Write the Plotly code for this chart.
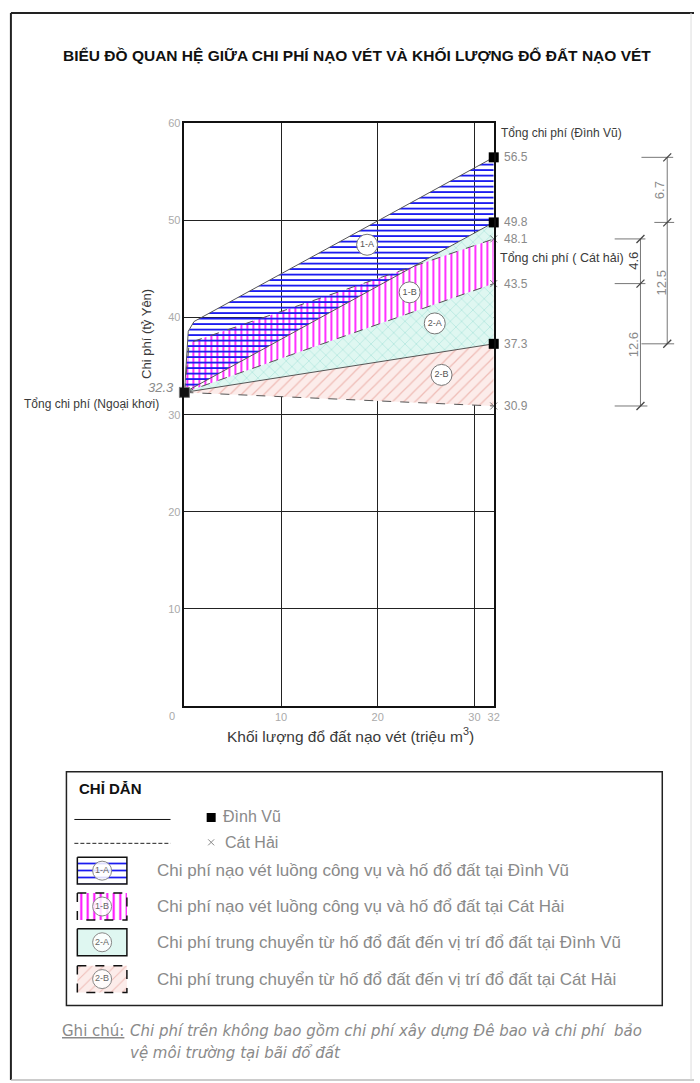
import plotly.graph_objects as go

W, H = 700, 1083

# Khối lượng đổ đất (triệu m3) và chi phí (tỷ Yên) của từng đường chi phí
vol_total_dv = [0.0, 0.4, 1.0, 32.0]
cost_total_dv = [32.3, 38.6, 39.6, 56.5]      # Tổng chi phí (Đình Vũ)
vol_total_ch = [0.0, 0.5, 32.0]
cost_total_ch = [32.3, 37.4, 48.1]            # Tổng chi phí (Cát Hải)
vol_line = [0.0, 32.0]
cost_transfer_dv = [32.3, 49.8]               # ranh giới 1-A / 2-A
cost_transfer_ch = [32.3, 43.5]               # ranh giới 1-B / 2-B
cost_base_dv = [32.3, 37.3]
cost_base_ch = [32.3, 30.9]
offshore_vol = [0.0]
offshore_cost = [32.3]                        # Tổng chi phí (Ngoại khơi)

x_ticks = [10, 20, 30, 32]
y_ticks = [10, 20, 30, 40, 50, 60]

zone_names = ["1-A", "1-B", "2-A", "2-B"]
zone_texts = [
    "Chi phí nạo vét luồng công vụ và hố đổ đất tại Đình Vũ",
    "Chi phí nạo vét luồng công vụ và hố đổ đất tại Cát Hải",
    "Chi phí trung chuyển từ hố đổ đất đến vị trí đổ đất tại Đình Vũ",
    "Chi phí trung chuyển từ hố đổ đất đến vị trí đổ đất tại Cát Hải",
]

SANS = "Liberation Sans, Arial, sans-serif"
WIDE = "DejaVu Sans, Verdana, sans-serif"
GRAY = "#8a8a8a"
DARK = "#3a3a3a"

BLUE = "#1c1cf0"
MAGENTA = "#ff00ff"
CYAN_BG = "#dff7f1"
CYAN_FG = "#a9e4da"
PINK_BG = "#fcecea"
PINK_FG = "#efbcb6"


def band(xt, yt, xb, yb):
    """Closed polygon between an upper and a lower cost line."""
    xs = list(xt) + list(xb)[::-1] + [xt[0]]
    ys = list(yt) + list(yb)[::-1] + [yt[0]]
    return xs, ys


def px(x):
    return x / W


def py(y):
    return 1 - y / H


fig = go.Figure()

# ---- hatched cost zones (bottom to top) ----
zones = [
    (band(vol_line, cost_transfer_ch, vol_line, cost_base_ch),
     dict(shape="/", fgcolor=PINK_FG, bgcolor=PINK_BG, size=8, solidity=0.15)),
    (band(vol_line, cost_transfer_dv, vol_line, cost_base_dv),
     dict(shape="x", fgcolor=CYAN_FG, bgcolor=CYAN_BG, size=8, solidity=0.15)),
    (band(vol_total_ch, cost_total_ch, vol_line, cost_transfer_ch),
     dict(shape="|", fgcolor=MAGENTA, bgcolor="white", size=6, solidity=0.27)),
    (band(vol_total_dv, cost_total_dv, vol_line, cost_transfer_dv),
     dict(shape="-", fgcolor=BLUE, bgcolor="rgba(255,255,255,0)", size=5.5, solidity=0.33)),
]
for (xs, ys), pat in zones:
    fig.add_trace(go.Scatter(
        x=xs, y=ys, mode="lines", fill="toself", line=dict(width=0),
        fillcolor="rgba(0,0,0,0)", fillpattern=dict(fillmode="replace", **pat),
        hoverinfo="skip", showlegend=False, xaxis="x", yaxis="y"))

# ---- cost lines: solid = Đình Vũ, dashed = Cát Hải ----
for xs, ys, dash in [
    (vol_total_dv, cost_total_dv, "solid"),
    (vol_line, cost_transfer_dv, "solid"),
    (vol_line, cost_base_dv, "solid"),
    (vol_total_ch, cost_total_ch, "dash"),
    (vol_line, cost_transfer_ch, "dash"),
    (vol_line, cost_base_ch, "dash"),
]:
    fig.add_trace(go.Scatter(x=xs, y=ys, mode="lines",
                             line=dict(color="#555", width=1, dash=dash),
                             hoverinfo="skip", showlegend=False))

# end markers
dv_end = [cost_total_dv[-1], cost_transfer_dv[-1], cost_base_dv[-1]]
ch_end = [cost_total_ch[-1], cost_transfer_ch[-1], cost_base_ch[-1]]
x_end = vol_line[-1]
fig.add_trace(go.Scatter(x=[x_end] * 3, y=dv_end, mode="markers", cliponaxis=False,
                         marker=dict(symbol="square", size=10, color="black"),
                         hoverinfo="skip", showlegend=False))
fig.add_trace(go.Scatter(x=[x_end] * 3, y=ch_end, mode="markers", cliponaxis=False,
                         marker=dict(symbol="x-thin", size=7, line=dict(color="#777", width=1)),
                         hoverinfo="skip", showlegend=False))
fig.add_trace(go.Scatter(x=offshore_vol, y=offshore_cost, mode="markers", cliponaxis=False,
                         marker=dict(symbol="square", size=10, color="#111",
                                     line=dict(color="#777", width=1)),
                         hoverinfo="skip", showlegend=False))

# circled zone tags
tag_x = [18.9, 23.3, 25.9, 26.6]
tag_y = [47.5, 42.6, 39.4, 34.1]
fig.add_trace(go.Scatter(x=tag_x, y=tag_y, mode="markers+text", text=zone_names,
                         textposition="middle center", cliponaxis=False,
                         textfont=dict(family=SANS, size=9, color="#555"),
                         marker=dict(symbol="circle", size=21, color="white",
                                     line=dict(color="#777", width=1)),
                         hoverinfo="skip", showlegend=False))

# ---- legend swatches (pixel space on x2/y2) ----
sw_x0, sw_x1 = 78, 128
sw_tops = [856, 892, 928, 965]
sw_h = 27
sw_styles = [
    (dict(shape="-", fgcolor=BLUE, bgcolor="white", size=7, solidity=0.25), "solid"),
    (dict(shape="|", fgcolor=MAGENTA, bgcolor="white", size=6.5, solidity=0.3), "dash"),
    (dict(shape="", fgcolor=CYAN_BG, bgcolor=CYAN_BG, size=8, solidity=0.2), "solid"),
    (dict(shape="/", fgcolor=PINK_FG, bgcolor=PINK_BG, size=8, solidity=0.12), "dash"),
]
for top, (pat, dash) in zip(sw_tops, sw_styles):
    xs = [sw_x0, sw_x1, sw_x1, sw_x0, sw_x0]
    ys = [top, top, top + sw_h, top + sw_h, top]
    kw = dict(fillpattern=dict(fillmode="replace", **pat)) if pat["shape"] else {}
    fig.add_trace(go.Scatter(
        x=xs, y=ys, mode="lines", fill="toself",
        fillcolor=pat["bgcolor"], line=dict(color="#111", width=1.5, dash=dash),
        hoverinfo="skip", showlegend=False, xaxis="x2", yaxis="y2", **kw))
fig.add_trace(go.Scatter(
    x=[(sw_x0 + sw_x1) / 2] * 4, y=[t + sw_h / 2 for t in sw_tops],
    mode="markers+text", text=zone_names, textposition="middle center",
    textfont=dict(family=SANS, size=9, color="#666"),
    marker=dict(symbol="circle", size=19, color="rgba(255,255,255,0.85)",
                line=dict(color="#888", width=1)),
    hoverinfo="skip", showlegend=False, xaxis="x2", yaxis="y2"))
# legend line-style samples and symbols
fig.add_trace(go.Scatter(x=[75, 172], y=[818, 818], mode="lines",
                         line=dict(color="#111", width=1), hoverinfo="skip",
                         showlegend=False, xaxis="x2", yaxis="y2"))
fig.add_trace(go.Scatter(x=[75, 172], y=[842, 842], mode="lines",
                         line=dict(color="#222", width=1, dash="4px,2px"), hoverinfo="skip",
                         showlegend=False, xaxis="x2", yaxis="y2"))
fig.add_trace(go.Scatter(x=[213], y=[816], mode="markers",
                         marker=dict(symbol="square", size=9, color="black"),
                         hoverinfo="skip", showlegend=False, xaxis="x2", yaxis="y2"))
fig.add_trace(go.Scatter(x=[213], y=[841], mode="markers",
                         marker=dict(symbol="x-thin", size=6, line=dict(color="#888", width=1)),
                         hoverinfo="skip", showlegend=False, xaxis="x2", yaxis="y2"))

shapes = []
# page frame
shapes += [
    dict(type="line", xref="x2", yref="y2", x0=11, x1=11, y0=7, y1=1080,
         line=dict(color="#222", width=2)),
    dict(type="line", xref="x2", yref="y2", x0=11, x1=700, y0=7, y1=7,
         line=dict(color="#222", width=2)),
    dict(type="line", xref="x2", yref="y2", x0=11, x1=700, y0=1080, y1=1080,
         line=dict(color="#bbb", width=1.5)),
    dict(type="line", xref="x2", yref="y2", x0=697, x1=697, y0=7, y1=1080,
         line=dict(color="#ddd", width=1)),
]
# legend frame
shapes.append(dict(type="rect", xref="x2", yref="y2", x0=67, x1=668, y0=770, y1=1005,
                   line=dict(color="#222", width=1.5)))

# dimension lines to the right of the plot
dim_line = dict(color="#777", width=1)
dim_right_px, dim_left_px = 673, 646
shapes.append(dict(type="line", xref="paper", yref="y", x0=px(dim_right_px), x1=px(dim_right_px),
                   y0=cost_total_dv[-1], y1=cost_base_dv[-1], line=dim_line))
shapes.append(dict(type="line", xref="paper", yref="y", x0=px(dim_left_px), x1=px(dim_left_px),
                   y0=cost_total_ch[-1], y1=cost_base_ch[-1], line=dim_line))
for v, a, b in [(cost_total_dv[-1], 647, 679), (cost_transfer_dv[-1], 660, 680),
                (cost_base_dv[-1], 647, 680), (cost_total_ch[-1], 620, 651),
                (cost_transfer_ch[-1], 620, 651), (cost_base_ch[-1], 620, 653)]:
    shapes.append(dict(type="line", xref="paper", yref="y", x0=px(a), x1=px(b),
                       y0=v, y1=v, line=dim_line))
for v, xp in [(cost_total_dv[-1], dim_right_px), (cost_transfer_dv[-1], dim_right_px),
              (cost_base_dv[-1], dim_right_px), (cost_total_ch[-1], dim_left_px),
              (cost_transfer_ch[-1], dim_left_px), (cost_base_ch[-1], dim_left_px)]:
    shapes.append(dict(type="line", xref="paper", yref="y", ysizemode="pixel", yanchor=v,
                       x0=px(xp - 4), x1=px(xp + 4), y0=-4, y1=4,
                       line=dict(color="#444", width=1.3)))

annotations = []


def ann(text, x, y, size=12, color=GRAY, family=SANS, xanchor="left", **kw):
    annotations.append(dict(text=text, x=px(x), y=py(y), xref="paper", yref="paper",
                            showarrow=False, xanchor=xanchor, yanchor="middle",
                            font=dict(family=family, size=size, color=color), **kw))


ann("<b>BIỂU ĐỒ QUAN HỆ GIỮA CHI PHÍ NẠO VÉT VÀ KHỐI LƯỢNG ĐỔ ĐẤT NẠO VÉT</b>",
    360, 50, size=15.5, color="#111", xanchor="center")
ann("Chi phí (tỷ Yên)", 147, 330, size=13, color=DARK, xanchor="center", textangle=-90)
ann("Khối lượng đổ đất nạo vét (triệu m<sup>3</sup>)", 354, 733, size=15.5, color=DARK,
    xanchor="center")
ann("0", 173, 714, size=11, color="#aaa", xanchor="center")

# end-value labels
for v in dv_end + ch_end:
    annotations.append(dict(text=f"{v:.1f}", x=x_end, y=v, xref="x", yref="y", showarrow=False,
                            xanchor="left", xshift=8, yanchor="middle",
                            font=dict(family=SANS, size=12, color=GRAY)))
annotations.append(dict(text="Tổng chi phí (Đình Vũ)", x=x_end, y=cost_total_dv[-1], xref="x",
                        yref="y", showarrow=False, xanchor="left", xshift=5, yshift=24,
                        font=dict(family=SANS, size=12, color=DARK)))
annotations.append(dict(text="Tổng chi phí ( Cát hải)", x=x_end, y=cost_total_ch[-1], xref="x",
                        yref="y", showarrow=False, xanchor="left", xshift=4, yshift=-19,
                        font=dict(family=SANS, size=12.5, color=DARK)))
annotations.append(dict(text=f"<i>{offshore_cost[0]:.1f}</i>", x=offshore_vol[0], y=offshore_cost[0],
                        xref="x", yref="y", showarrow=False, xanchor="right", xshift=-8, yshift=5,
                        font=dict(family=SANS, size=13, color=GRAY)))
annotations.append(dict(text="Tổng chi phí (Ngoại khơi)", x=offshore_vol[0], y=offshore_cost[0],
                        xref="x", yref="y", showarrow=False, xanchor="right", xshift=-23, yshift=-12,
                        font=dict(family=SANS, size=12, color=DARK)))

# dimension values
for top, bot, xp, col in [(cost_total_dv[-1], cost_transfer_dv[-1], 666, GRAY),
                          (cost_transfer_dv[-1], cost_base_dv[-1], 667, GRAY),
                          (cost_total_ch[-1], cost_transfer_ch[-1], 639, DARK),
                          (cost_transfer_ch[-1], cost_base_ch[-1], 639, GRAY)]:
    annotations.append(dict(text=f"{top - bot:.1f}", x=px(xp), y=(top + bot) / 2, xref="paper",
                            yref="y", showarrow=False, textangle=-90, xanchor="center",
                            yanchor="middle", font=dict(family=SANS, size=13, color=col)))

# legend texts
ann("<b>CHỈ DẪN</b>", 78, 787, size=15, color="#111")
ann("Đình Vũ", 223, 815, size=16, color=GRAY)
ann("Cát Hải", 225, 841, size=16, color=GRAY)
for top, txt in zip(sw_tops, zone_texts):
    ann(txt, 156, top + sw_h / 2, size=17, color=GRAY)

# note
ann("<u>Ghi chú:</u>", 61, 1031, size=15, color=GRAY, family=WIDE)
ann("<i>Chi phí trên không bao gồm chi phí xây dựng Đê bao và chi phí  bảo</i>", 129, 1031,
    size=15, color=GRAY, family=WIDE)
ann("<i>vệ môi trường tại bãi đổ đất</i>", 129, 1053, size=15, color=GRAY, family=WIDE)

axis_common = dict(showline=True, mirror=True, linecolor="#111", linewidth=1.5,
                   showgrid=True, gridcolor="#222", gridwidth=1, zeroline=False, ticks="",
                   tickfont=dict(family=SANS, size=11, color="#aaa"))

fig.update_layout(
    width=W, height=H, margin=dict(l=0, r=0, t=0, b=0),
    paper_bgcolor="white", plot_bgcolor="rgba(0,0,0,0)",
    xaxis=dict(domain=[186 / W, 498 / W], range=[0, 32], tickvals=x_ticks,
               anchor="y", **axis_common),
    yaxis=dict(domain=[1 - 704 / H, 1 - 118 / H], range=[0, 60], tickvals=y_ticks,
               anchor="x", **axis_common),
    xaxis2=dict(domain=[0, 1], range=[0, W], visible=False, anchor="y2"),
    yaxis2=dict(domain=[0, 1], range=[H, 0], visible=False, anchor="x2"),
    shapes=shapes, annotations=annotations, showlegend=False,
)

fig.write_html("out.html")
